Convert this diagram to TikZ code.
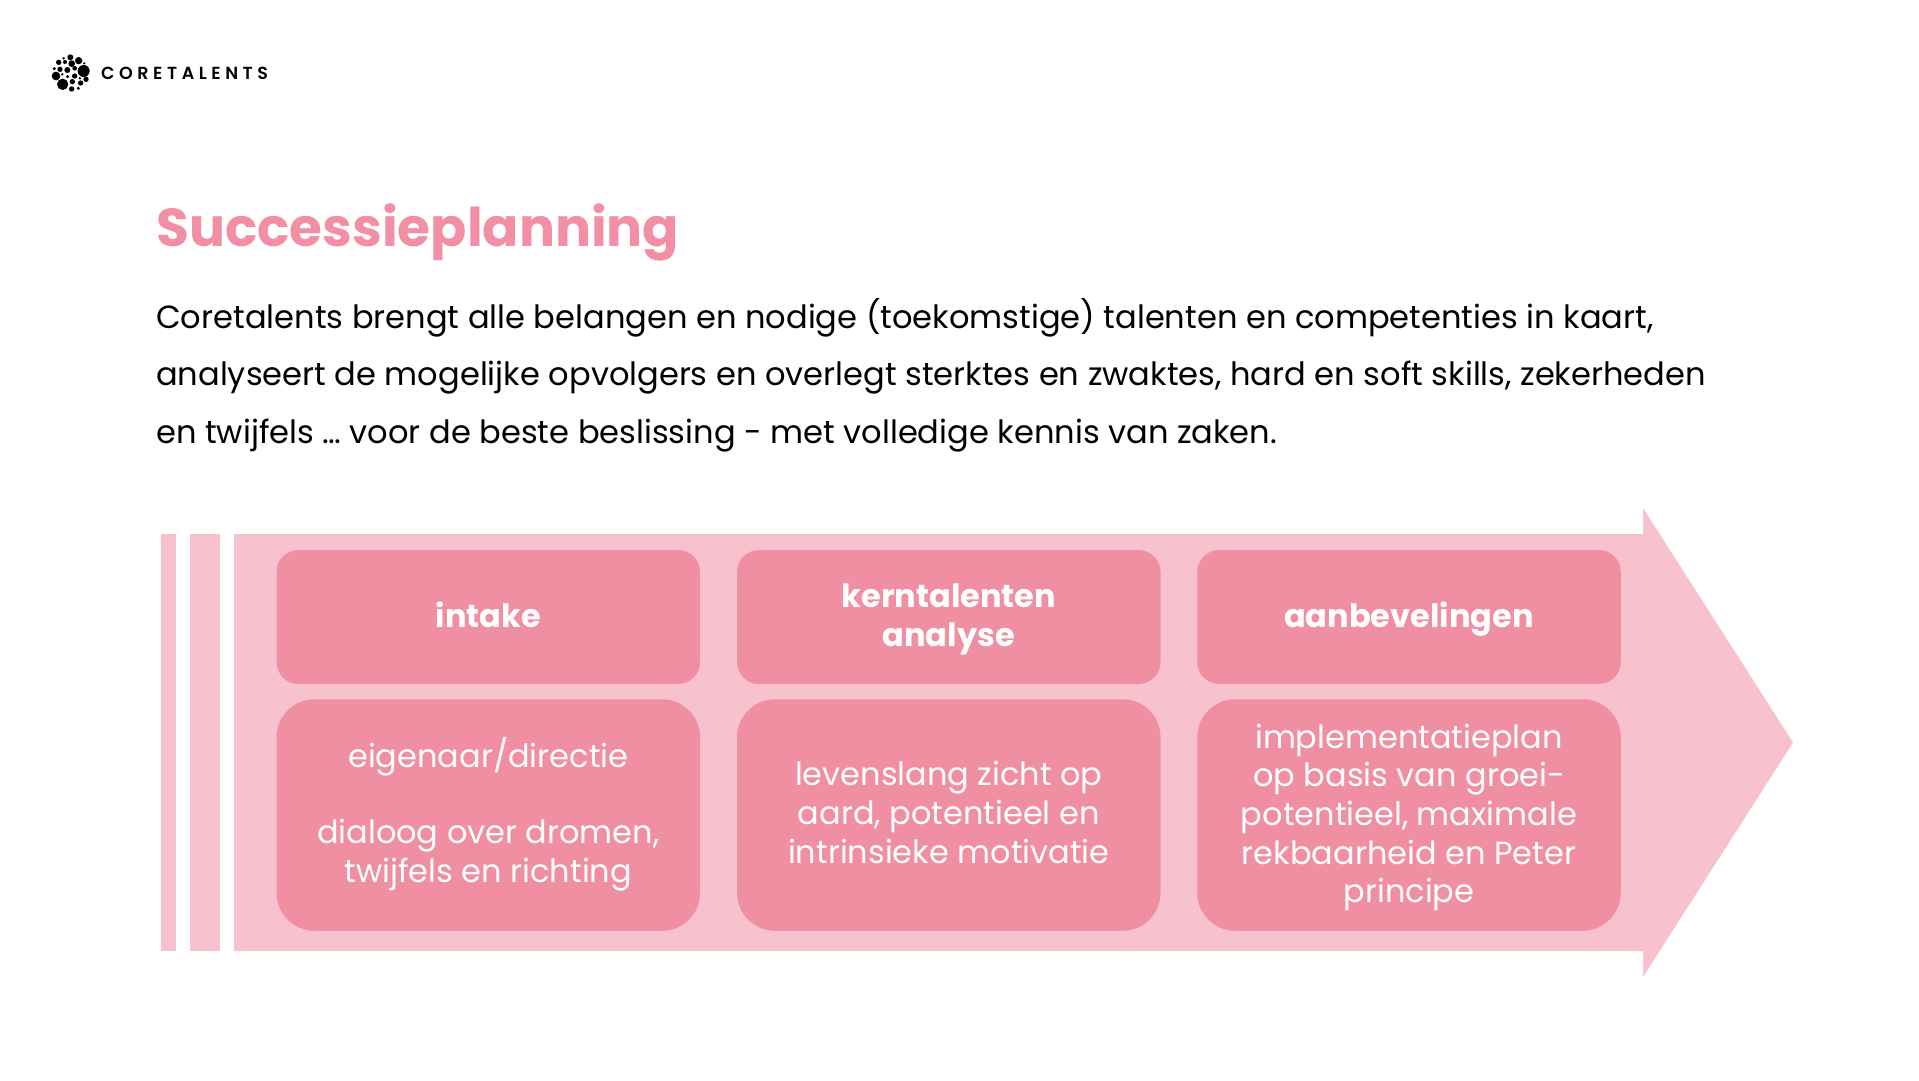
\documentclass[tikz,border=0pt]{standalone}
\usepackage{fontspec}
\setmainfont{Poppins}
\newfontfamily\logofont[LetterSpace=26]{Poppins SemiBold}
\usetikzlibrary{positioning}
\definecolor{rose}{HTML}{F08EA2}
\definecolor{lightrose}{HTML}{F7C2CD}
\definecolor{titlerose}{HTML}{F28FA4}
\tikzset{
	headbox/.style={fill=rose, rounded corners=22, minimum width=423.5, minimum height=134, inner sep=0pt},
	textbox/.style={fill=rose, rounded corners=38, minimum width=423.5, minimum height=231.5, inner sep=0pt},
	headtext/.style={text=white, align=center, inner sep=0pt, font=\fontsize{32}{39.5}\selectfont\bfseries},
	boxtext/.style={text=white, align=center, inner sep=0pt, font=\fontsize{32}{38.6}\selectfont},
	bodyline/.style={anchor=base west, inner sep=0pt, font=\fontsize{32.08}{40}\selectfont},
}
\newcommand{\stage}[5]{
	\node[headbox] (#1head) at (#2, 617) {};
	\node[textbox] (#1box) at (#2, 815) {};
	\node[headtext] (#1title) at (#2, 619.5) {#3};
	\node[boxtext] (#1text) at (#2, #5) {#4};
}
\begin{document}
\begin{tikzpicture}[x=1pt, y=-1pt]
	\useasboundingbox (0, 0) rectangle (1919, 1080);

	% logo
	\begin{scope}[shift={(30, 40)}, x=0.3333pt, y=-0.3333pt]
		\foreach \dotx/\doty/\dotr in {121/52/9, 101/55/4, 86/67/8, 105/66/6, 125/71/10, 146/62/11, 163/70/4, 73/86/5, 90/88/8, 112/90/9, 134/85/7, 161/93/18, 72/100/3, 78/108/13, 97/103/4, 113/110/5, 134/108/8, 150/115/4, 168/118/8, 98/133/17, 127/125/8, 152/129/8, 125/147/8, 145/145/5} {
			\fill (\dotx, \doty) circle[radius=\dotr*0.3333pt];
		}
	\end{scope}
	\node[anchor=base west, inner sep=0pt, font=\fontsize{17.5}{20}\selectfont\logofont] (logo) at (101, 79) {CORETALENTS};

	% heading
	\node[anchor=base west, inner sep=0pt, text=titlerose, font=\fontsize{53.4}{60}\selectfont\bfseries] (title) at (156, 246.5) {Successieplanning};
	\node[bodyline] (lineA) at (156, 328) {Coretalents brengt alle belangen en nodige (toekomstige) talenten en competenties in kaart,};
	\node[bodyline] (lineB) at (156, 385) {analyseert de mogelijke opvolgers en overlegt sterktes en zwaktes, hard en soft skills, zekerheden};
	\node[bodyline] (lineC) at (156, 443) {en twijfels … voor de beste beslissing - met volledige kennis van zaken.};

	% arrow
	\fill[lightrose] (161, 534) rectangle (175.5, 951);
	\fill[lightrose] (190, 534) rectangle (219.5, 951);
	\fill[lightrose] (234, 534) -- (1643, 534) -- (1643, 508) -- (1793, 742.5) -- (1643, 977) -- (1643, 951) -- (234, 951) -- cycle;

	% boxes
	\stage{intake}{488.3}{intake\vphantom{g}}{eigenaar/directie\\[37.4pt]dialoog over dromen,\\twijfels en richting}{814.5}
	\stage{analyse}{948.8}{kerntalenten\\analyse}{levenslang zicht op\\aard, potentieel en\\intrinsieke motivatie}{812.5}
	\stage{advies}{1409}{aanbevelingen}{implementatieplan\\op basis van groei-\\potentieel, maximale\\rekbaarheid en Peter\\principe}{817.5}
\end{tikzpicture}
\end{document}
